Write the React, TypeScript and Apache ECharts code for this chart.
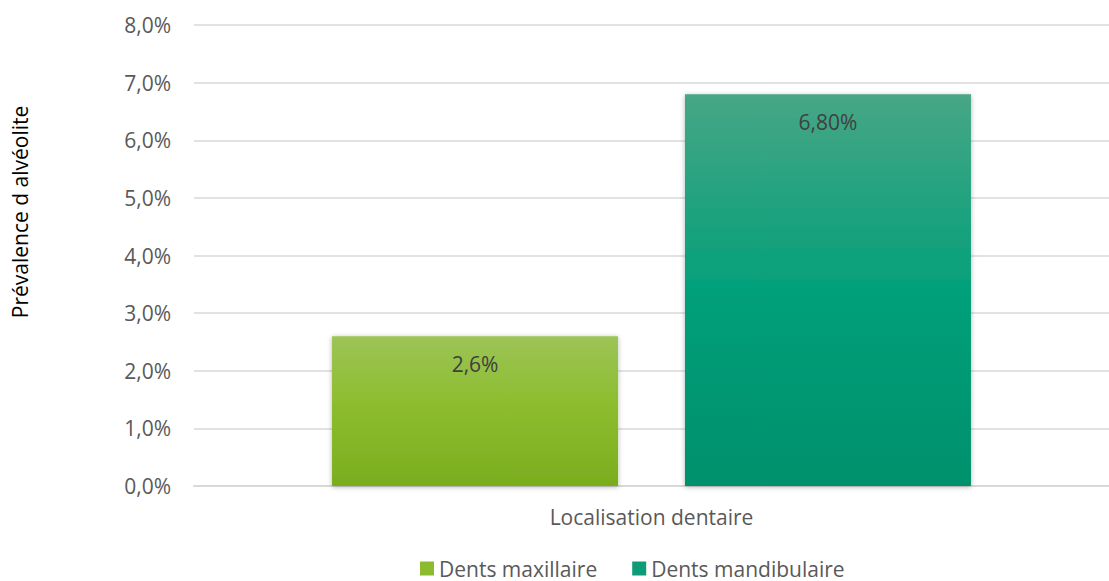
import React, { useEffect, useRef } from "react";
import * as echarts from "echarts";

const categories = ["Localisation dentaire"];
const seriesNames = ["Dents maxillaire", "Dents mandibulaire"];
const seriesValues = [[2.6], [6.8]];
const labelTexts = ["2,6%", "6,80%"];
const yTicks = { min: 0, max: 8, interval: 1 };

const gradients = [
  [
    [0, "#9CC457"],
    [0.45, "#8DBD2F"],
    [1, "#7AAD1E"],
  ],
  [
    [0, "#47A685"],
    [0.5, "#03A07A"],
    [1, "#00906C"],
  ],
];
const legendColors = ["#8CBC2E", "#0E9C78"];

export default function App() {
  const ref = useRef<HTMLDivElement>(null);
  useEffect(() => {
    if (!ref.current) return;
    const chart = echarts.init(ref.current, null, { renderer: "svg" });
    const font = "'Open Sans', sans-serif";
    chart.setOption({
      animation: false,
      textStyle: { fontFamily: font },
      grid: { left: 194, right: -6, top: 25, bottom: 95, containLabel: false },
      legend: {
        data: seriesNames.map((n, i) => ({
          name: n,
          itemStyle: { color: legendColors[i] },
        })),
        left: 415,
        top: 553,
        icon: "rect",
        itemWidth: 14,
        itemHeight: 14,
        itemGap: 35,
        textStyle: { fontSize: 21, color: "#595959", fontFamily: font, padding: [0, 0, 0, 0] },
      },
      xAxis: {
        type: "category",
        data: categories,
        axisLine: { show: true, lineStyle: { color: "#D9D9D9", width: 2 } },
        axisTick: { show: false },
        axisLabel: { fontSize: 21, color: "#595959", margin: 20, fontFamily: font },
      },
      yAxis: {
        type: "value",
        min: yTicks.min,
        max: yTicks.max,
        interval: yTicks.interval,
        axisLine: { show: false },
        axisTick: { show: false },
        splitLine: { lineStyle: { color: "#D9D9D9", width: 1.5 } },
        axisLabel: {
          fontSize: 21,
          color: "#595959",
          margin: 23,
          fontFamily: font,
          formatter: (v: number) => v.toFixed(1).replace(".", ",") + "%",
        },
      },
      graphic: [
        {
          type: "text",
          x: 20,
          y: 212,
          rotation: Math.PI / 2,
          style: {
            text: "Prévalence d alvéolite",
            fontSize: 21,
            fill: "#000000",
            fontFamily: font,
            align: "center",
            verticalAlign: "middle",
          },
        },
      ],
      series: seriesNames.map((name, i) => ({
        name,
        type: "bar",
        data: seriesValues[i],
        barWidth: 286,
        barGap: "23.4%",
        itemStyle: {
          color: new echarts.graphic.LinearGradient(
            0,
            0,
            0,
            1,
            gradients[i].map(([o, c]) => ({ offset: o as number, color: c as string }))
          ),
          shadowBlur: 5,
          shadowColor: "rgba(0,0,0,0.3)",
          shadowOffsetY: 1,
        },
        label: {
          show: true,
          position: "insideTop",
          distance: 17,
          fontSize: 21,
          color: "#404040",
          fontFamily: font,
          formatter: () => labelTexts[i],
        },
      })),
    });
    return () => chart.dispose();
  }, []);
  return (
    <div
      ref={ref}
      style={{ position: "fixed", left: 0, top: 0, width: 1109, height: 581, background: "#fff" }}
    />
  );
}
